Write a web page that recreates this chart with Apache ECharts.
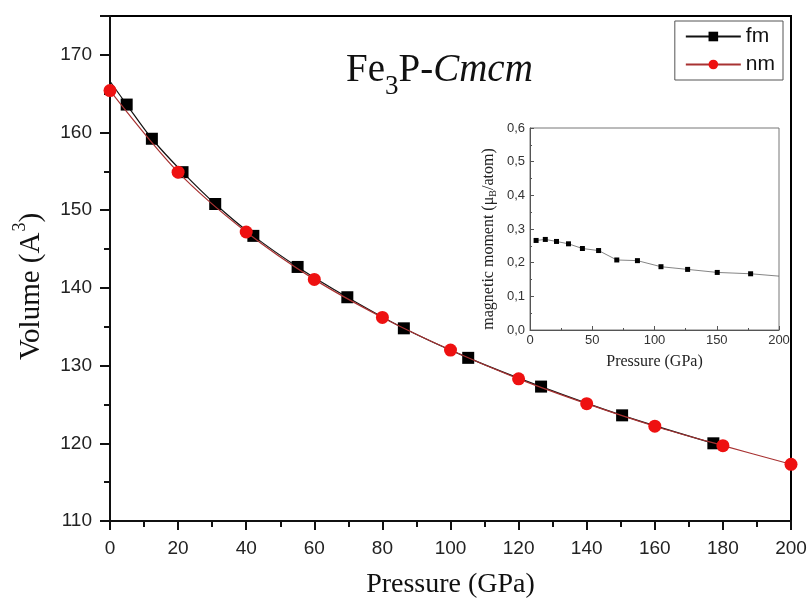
<!DOCTYPE html>
<html>
<head>
<meta charset="utf-8">
<script src="https://cdn.jsdelivr.net/npm/echarts@6/dist/echarts.min.js"></script>
<style>
  html, body { margin: 0; padding: 0; background: #fff; }
  #chart { width: 807px; height: 601px; }
</style>
</head>
<body>
<div id="chart"></div>
<script>
// main plot: volume vs pressure
const fmPressure = [0, 4.9, 12.3, 21.3, 30.9, 42.1, 55.1, 69.7, 86.3, 105.2, 126.6, 150.4, 177.2];
const fmVolume = [166.6, 163.6, 159.2, 154.9, 150.8, 146.7, 142.7, 138.8, 134.8, 131.0, 127.3, 123.6, 120.0];
const nmPressure = [0, 20, 40, 60, 80, 100, 120, 140, 160, 180, 200];
const nmVolume = [165.4, 154.9, 147.2, 141.1, 136.2, 132.0, 128.3, 125.1, 122.2, 119.7, 117.3];

// inset: magnetic moment of fm phase
const momPressure = [4.9, 12.3, 21.3, 30.9, 42.1, 55.1, 69.7, 86.3, 105.2, 126.6, 150.4, 177.2, 200];
const momValue = [0.266, 0.269, 0.263, 0.256, 0.242, 0.236, 0.208, 0.206, 0.188, 0.180, 0.171, 0.167, 0.160];

const SANS = 'Liberation Sans';
const SERIF = 'Liberation Serif';

const chart = echarts.init(document.getElementById('chart'));

// the fm fit line starts at P=0 without a marker
const fmData = fmPressure.map(function (p, i) {
  const item = { value: [p, fmVolume[i]] };
  if (p === 0) item.symbol = 'none';
  return item;
});
const nmData = nmPressure.map(function (p, i) {
  return [p, nmVolume[i]];
});
// the inset line runs on to 200 GPa without a marker
const momData = momPressure.map(function (p, i) {
  const item = { value: [p, momValue[i]] };
  if (p === 200) item.symbol = 'none';
  return item;
});

chart.setOption({
  animation: false,
  backgroundColor: '#fff',
  title: {
    left: 341,
    top: 36,
    text: '{a|Fe}{s|3}{a|P-}{i|Cmcm}',
    textStyle: {
      fontWeight: 'normal',
      rich: {
        a: { fontFamily: SERIF, fontSize: 39, fontWeight: 'normal', color: '#111' },
        s: { fontFamily: SERIF, fontSize: 27, fontWeight: 'normal', color: '#111', padding: [32, 0, 0, 0] },
        i: { fontFamily: SERIF, fontSize: 39, fontWeight: 'normal', fontStyle: 'italic', color: '#111' }
      }
    }
  },
  legend: {
    data: ['fm', 'nm'],
    orient: 'vertical',
    right: 24,
    top: 21,
    padding: [5, 8, 5, 10],
    itemWidth: 55,
    itemHeight: 12,
    itemGap: 7,
    borderColor: '#555',
    borderWidth: 1,
    textStyle: { fontFamily: SANS, fontSize: 21, color: '#111' }
  },
  grid: [
    {
      left: 110, right: 16, top: 16, bottom: 80,
      outerBoundsMode: 'none', containLabel: false,
      show: true, borderColor: '#000', borderWidth: 2
    },
    {
      left: 530, top: 128, width: 249, height: 202,
      outerBoundsMode: 'none', containLabel: false,
      show: true, borderColor: '#777', borderWidth: 1, backgroundColor: '#fff'
    }
  ],
  xAxis: [
    {
      type: 'value', gridIndex: 0, min: 0, max: 200, interval: 20,
      name: 'Pressure (GPa)', nameLocation: 'middle', nameGap: 50,
      nameTextStyle: { fontFamily: SERIF, fontSize: 28, color: '#111' },
      axisLine: { lineStyle: { color: '#111', width: 2 } },
      axisTick: { inside: false, length: 9, lineStyle: { color: '#111', width: 2 } },
      minorTick: { show: true, splitNumber: 2, length: 6, lineStyle: { color: '#111', width: 2 } },
      axisLabel: { fontFamily: SANS, fontSize: 19, color: '#222', margin: 18 },
      splitLine: { show: false }
    },
    {
      type: 'value', gridIndex: 1, min: 0, max: 200, interval: 50,
      name: 'Pressure (GPa)', nameLocation: 'middle', nameGap: 24,
      nameTextStyle: { fontFamily: SERIF, fontSize: 16, color: '#222' },
      axisLine: { lineStyle: { color: '#555', width: 1 } },
      axisTick: { inside: true, length: 4, lineStyle: { color: '#555' } },
      minorTick: { show: true, splitNumber: 2, length: 2, lineStyle: { color: '#555' } },
      axisLabel: { fontFamily: SANS, fontSize: 13, color: '#333', margin: 4 },
      splitLine: { show: false }
    }
  ],
  yAxis: [
    {
      type: 'value', gridIndex: 0, min: 110, max: 175, interval: 10,
      name: 'Volume (A{sup|3})', nameLocation: 'middle', nameGap: 59,
      nameTextStyle: {
        fontFamily: SERIF, fontSize: 29, color: '#111', padding: [0, 36, 0, 0],
        rich: { sup: { fontFamily: SERIF, fontSize: 18, color: '#111', padding: [0, 0, 22, 1] } }
      },
      axisLine: { lineStyle: { color: '#111', width: 2 } },
      axisTick: { inside: false, length: 10, lineStyle: { color: '#111', width: 2 } },
      minorTick: { show: true, splitNumber: 2, length: 6, lineStyle: { color: '#111', width: 2 } },
      axisLabel: { fontFamily: SANS, fontSize: 19, color: '#222', margin: 18, showMaxLabel: false },
      splitLine: { show: false }
    },
    {
      type: 'value', gridIndex: 1, min: 0, max: 0.6, interval: 0.1,
      name: 'magnetic moment (μ{sub|B}/atom)', nameLocation: 'middle', nameGap: 32,
      nameTextStyle: {
        fontFamily: SERIF, fontSize: 16, color: '#222', padding: [0, 20, 0, 0],
        rich: { sub: { fontFamily: SERIF, fontSize: 10, color: '#222', padding: [8, 0, 0, 0] } }
      },
      axisLine: { lineStyle: { color: '#555', width: 1 } },
      axisTick: { inside: true, length: 4, lineStyle: { color: '#555' } },
      minorTick: { show: true, splitNumber: 2, length: 2, lineStyle: { color: '#555' } },
      axisLabel: {
        fontFamily: SANS, fontSize: 13, color: '#333', margin: 5,
        formatter: function (v) { return v.toFixed(1).replace('.', ','); }
      },
      splitLine: { show: false }
    }
  ],
  series: [
    {
      name: 'fm', type: 'line', xAxisIndex: 0, yAxisIndex: 0,
      data: fmData, smooth: 0.3,
      symbol: 'rect', symbolSize: 12,
      lineStyle: { color: '#111', width: 1.2 },
      itemStyle: { color: '#000' },
      z: 2
    },
    {
      name: 'nm', type: 'line', xAxisIndex: 0, yAxisIndex: 0,
      data: nmData, smooth: 0.3,
      symbol: 'circle', symbolSize: 13,
      lineStyle: { color: '#a83232', width: 1.2 },
      itemStyle: { color: '#ee1111' },
      z: 3
    },
    {
      name: 'moment', type: 'line', xAxisIndex: 1, yAxisIndex: 1,
      data: momData,
      symbol: 'rect', symbolSize: 5,
      lineStyle: { color: '#666', width: 0.8 },
      itemStyle: { color: '#000' },
      z: 4
    }
  ]
});
</script>
</body>
</html>
